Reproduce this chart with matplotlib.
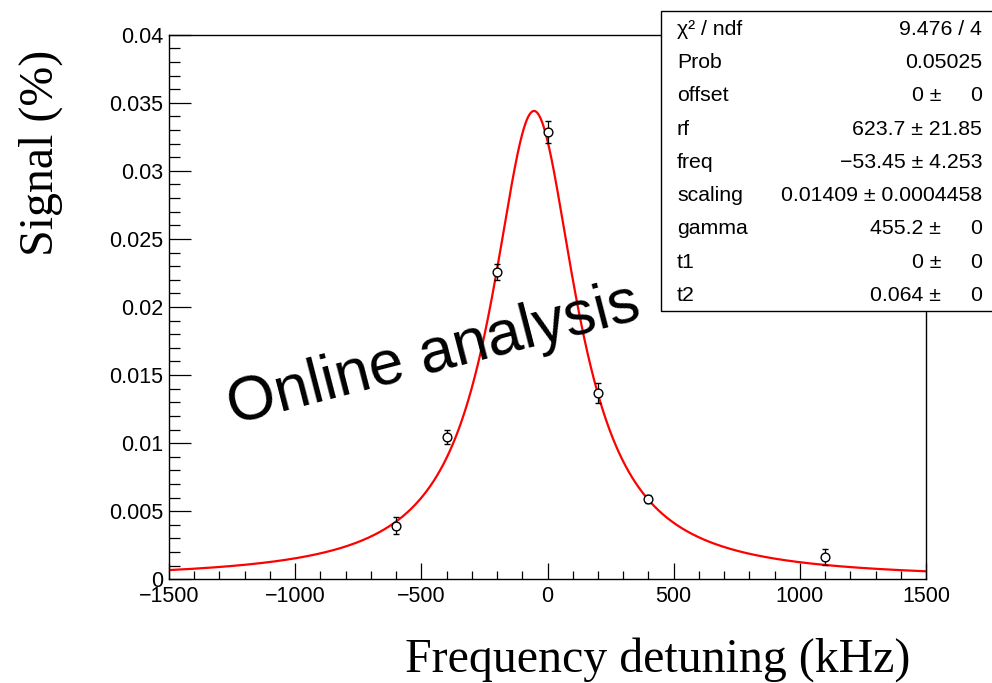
import numpy as np
import matplotlib
matplotlib.use("Agg")
import matplotlib.pyplot as plt
from matplotlib.patches import Rectangle

# ---- data ----
x_data = [-600, -400, -200, 0, 200, 400, 1100]
y_data = [0.00394, 0.01047, 0.02259, 0.03288, 0.01366, 0.0059, 0.00166]
y_err = [0.0006, 0.0005, 0.0006, 0.0008, 0.00074, 0.0003, 0.0006]

# fitted line-shape parameters
fit_center = -53.45
fit_peak = 0.0344
fit_halfwidth = 205.0

stat_labels = ["χ² / ndf", "Prob", "offset", "rf", "freq", "scaling", "gamma", "t1", "t2"]
stat_values = ["9.476 / 4", "0.05025", "0", "623.7", "\u221253.45", "0.01409", "455.2", "0", "0.064"]
stat_errors = [None, None, "0", "21.85", "4.253", "0.0004458", "0", "0", "0"]

x_ticks = [-1500, -1000, -500, 0, 500, 1000, 1500]
y_ticks = [0, 0.005, 0.01, 0.015, 0.02, 0.025, 0.03, 0.035, 0.04]
y_ticklabels = ["0", "0.005", "0.01", "0.015", "0.02", "0.025", "0.03", "0.035", "0.04"]

W, H = 992, 683
plt.rcParams['font.family'] = ['Liberation Sans', 'DejaVu Sans']
fig = plt.figure(figsize=(W / 100, H / 100), dpi=100)

def fx(px):
    return px / W

def fy(py):
    return 1 - py / H

ax_l, ax_r, ax_t, ax_b = 169, 926, 34.7, 579.3
ax = fig.add_axes([fx(ax_l), fy(ax_b), fx(ax_r - ax_l), (ax_b - ax_t) / H])
ax.set_xlim(-1500, 1500)
ax.set_ylim(0, 0.04)

xs = np.linspace(-1500, 1500, 1200)
curve = fit_peak / (1 + ((xs - fit_center) / fit_halfwidth) ** 2)
ax.plot(xs, curve, color='red', lw=1.6, zorder=2)

ax.errorbar(x_data, y_data, yerr=y_err, fmt='o', mfc='white', mec='black',
            ecolor='black', ms=6.3, mew=1.0, elinewidth=0.9, capsize=2.2,
            capthick=0.9, zorder=3)

ax.set_xticks(x_ticks)
ax.set_xticklabels([str(t).replace('-', '\u2212') for t in x_ticks])
ax.set_xticks(np.arange(-1500, 1501, 100), minor=True)
ax.set_yticks(y_ticks)
ax.set_yticklabels(y_ticklabels)
ax.set_yticks(np.arange(0, 0.0401, 0.001), minor=True)

ax.tick_params(axis='both', which='both', direction='in', top=False, right=False,
               labelsize=15.5, width=0.9)
ax.tick_params(axis='x', which='major', length=11.5, pad=5)
ax.tick_params(axis='x', which='minor', length=5.8)
ax.tick_params(axis='y', which='major', length=16, pad=4)
ax.tick_params(axis='y', which='minor', length=8)
for s in ax.spines.values():
    s.set_linewidth(1.0)

# axis titles
fig.text(fx(910), fy(672), "Frequency detuning (kHz)", family='Liberation Serif',
         fontsize=34.5, ha='right', va='baseline')
fig.text(fx(53), fy(50), "Signal (%)", family='Liberation Serif', fontsize=34.5,
         rotation=90, rotation_mode='anchor', ha='right', va='baseline')

# watermark-like annotation
fig.text(fx(434), fy(355), "Online analysis", fontsize=45, rotation=14.5,
         rotation_mode='anchor', ha='center', va='center', color='black')

# stats box
bx0, by0, bx1, by1 = 661, 11, 996, 310.7
fig.patches.append(Rectangle((fx(bx0), fy(by1)), fx(bx1 - bx0), (by1 - by0) / H,
                             transform=fig.transFigure, facecolor='white',
                             edgecolor='black', lw=1.0, zorder=5))
row_h = (by1 - by0) / len(stat_labels)
fs = 15.3
for i, (lab, val, err) in enumerate(zip(stat_labels, stat_values, stat_errors)):
    yc = by0 + row_h * (i + 0.5) + 1.5
    fig.text(fx(677), fy(yc), lab, fontsize=fs, ha='left', va='center', zorder=6)
    if err is None:
        fig.text(fx(982), fy(yc), val, fontsize=fs, ha='right', va='center', zorder=6)
    elif err == "0":
        fig.text(fx(941), fy(yc), val + " \u00b1", fontsize=fs, ha='right', va='center', zorder=6)
        fig.text(fx(982), fy(yc), err, fontsize=fs, ha='right', va='center', zorder=6)
    else:
        fig.text(fx(982), fy(yc), val + " \u00b1 " + err, fontsize=fs, ha='right',
                 va='center', zorder=6)

fig.savefig("out.png", dpi=100)
